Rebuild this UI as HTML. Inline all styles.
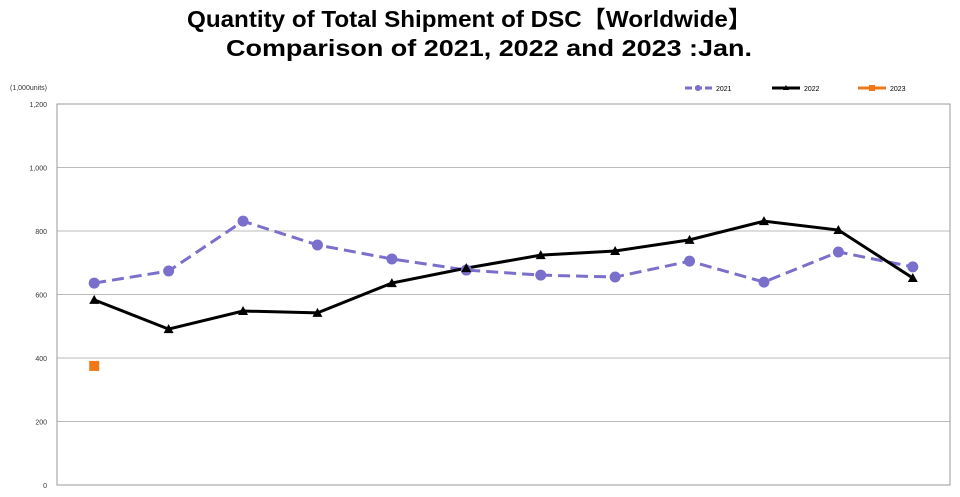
<!DOCTYPE html>
<html><head><meta charset="utf-8"><style>
body{margin:0;background:#fff;width:960px;height:492px;overflow:hidden;font-family:"Liberation Sans","Noto Sans CJK JP",sans-serif}
</style></head><body>
<svg width="960" height="492" id="c">
<text x="187" y="27" font-size="23" font-weight="bold" textLength="565" lengthAdjust="spacingAndGlyphs" font-family="'Liberation Sans','Noto Sans CJK JP',sans-serif">Quantity of Total Shipment of DSC【Worldwide】</text>
<text x="226" y="56" font-size="23" font-weight="bold" textLength="526" lengthAdjust="spacingAndGlyphs" font-family="'Liberation Sans',sans-serif">Comparison of 2021, 2022 and 2023 :Jan.</text>
<text x="10" y="90" font-size="7" fill="#333">(1,000units)</text>
<g id="legend">
<line x1="685" y1="88" x2="712" y2="88" stroke="#7b6fcc" stroke-width="3" stroke-dasharray="7,3"/><circle cx="698" cy="88" r="3" fill="#7b6fcc"/>
<text x="716" y="91" font-size="7">2021</text>
<line x1="772" y1="88" x2="800" y2="88" stroke="#000" stroke-width="3"/><polygon points="786,85 789,90 783,90" fill="#000"/>
<text x="804" y="91" font-size="7">2022</text>
<line x1="858" y1="88" x2="886" y2="88" stroke="#f07818" stroke-width="3"/><rect x="869" y="85" width="6" height="6" fill="#f07818"/>
<text x="890" y="91" font-size="7">2023</text>
</g>
<g id="grid"></g><g id="series"></g>
</svg>
<script>
const months=["Jan","Feb","Mar","Apr","May","Jun","Jul","Aug","Sep","Oct","Nov","Dec"];
const ticks=[0,200,400,600,800,1000,1200];
const tickLabels=["0","200","400","600","800","1,000","1,200"];
const s2021=[636,674,831,756,712,677,661,655,705,639,734,687];
const s2022=[583,491,548,542,636,683,724,737,772,831,803,652];
const s2023=[375];
const X0=57,X1=950,Y0=485,Y1=104,MAX=1200;
const xs=i=>X0+(X1-X0)/12*(i+0.5);
const ys=v=>Y0-(Y0-Y1)*v/MAX;
const NS="http://www.w3.org/2000/svg";
function mk(t,a,p){const e=document.createElementNS(NS,t);for(const k in a)e.setAttribute(k,a[k]);p.appendChild(e);return e;}
const g=document.getElementById('grid'),s=document.getElementById('series');
ticks.forEach((t,i)=>{
 const l=mk('line',{x1:X0,x2:X1,y1:ys(t),y2:ys(t),stroke:i==0?'#888':'#bbb','stroke-width':1},g);
 
 
 const tx=mk('text',{x:X0-10,y:ys(t)+3,'text-anchor':'end','font-size':7,fill:'#333'},g);
 tx.textContent=tickLabels[i];
 
 
});
const fr=mk('rect',{x:X0,y:Y1,width:X1-X0,height:Y0-Y1,fill:'none',stroke:'#999'},g);


function line(data,color,dash,name){
 const p=mk('polyline',{points:data.map((v,i)=>xs(i)+','+ys(v)).join(' '),fill:'none',stroke:color,'stroke-width':3,'stroke-dasharray':dash},s);
 
 
}
line(s2021,'#7b6fcc','12,6','series-2021');
line(s2022,'#000','none','series-2022');
s2021.forEach((v,i)=>{const c=mk('circle',{cx:xs(i),cy:ys(v),r:5.5,fill:'#7b6fcc'},s);
 
 });
s2022.forEach((v,i)=>{const x=xs(i),y=ys(v);const p=mk('polygon',{points:`${x},${y-5} ${x+5},${y+4} ${x-5},${y+4}`,fill:'#000'},s);
 
 });
s2023.forEach((v,i)=>{const r=mk('rect',{x:xs(i)-5,y:ys(v)-5,width:10,height:10,fill:'#f07818'},s);
 
 });
</script>
</body></html>
